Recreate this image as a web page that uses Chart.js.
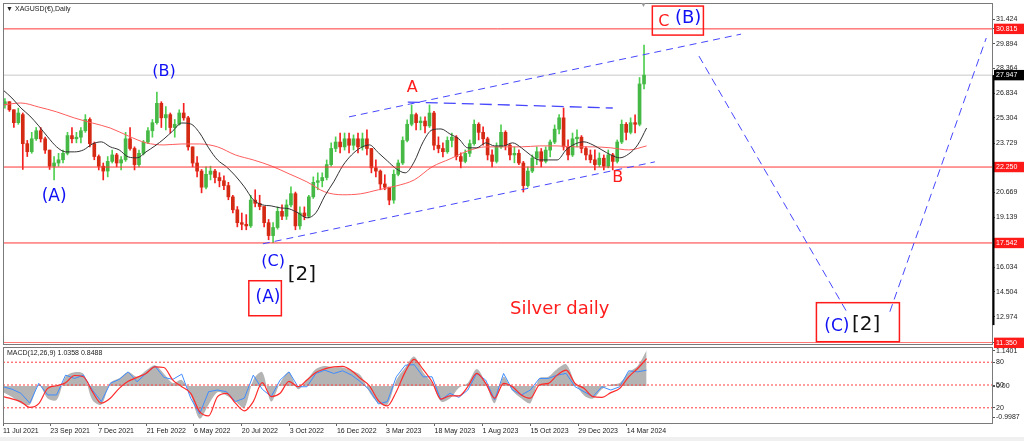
<!DOCTYPE html>
<html><head><meta charset="utf-8">
<script src="https://cdn.jsdelivr.net/npm/chart.js@4.4.1/dist/chart.umd.min.js"></script>
<style>
html,body{margin:0;padding:0;background:#fff;}
#wrap{position:relative;width:1024px;height:441px;overflow:hidden;background:#fff;}
#c1{position:absolute;left:0;top:0;}
#c2{position:absolute;left:0;top:345px;}
#strip{position:absolute;left:0;top:437px;width:1024px;height:4px;background:#f0f0f0;}
</style></head><body>
<div id="wrap"><div id="strip"></div><canvas id="c1" width="1024" height="352"></canvas><canvas id="c2" width="1024" height="96"></canvas></div>
<script>
// ---------- DATA (x = days since 11 Jul 2021) ----------
const barFirstDay = 3, barStepDays = 7;   // weekly candles
const opens = [26.1,26.3,25.8,25.0,25.5,23.7,23.2,24.0,24.5,24.0, 23.3,22.3,22.5,22.7,23.1,24.2,24.0,24.1,24.5,25.2, 23.7,22.9,22.3,22.0,22.6,23.0,22.5,22.7,24.0,23.4, 22.4,23.1,23.8,24.5,25.0,26.2,25.3,25.5,24.7,24.9, 25.6,25.3,23.5,22.5,22.0,21.0,21.8,22.0,21.6,21.4, 21.1,20.4,19.6,18.8,18.7,18.6,20.2,20.0,19.8,18.8, 18.0,18.5,19.5,19.2,19.9,20.6,18.6,19.4,19.2,20.4, 21.3,21.4,21.6,22.4,23.4,23.8,23.5,24.0,23.6,24.0, 23.5,24.0,23.4,22.2,22.0,21.2,21.0,20.2,21.8,22.5, 23.9,24.9,25.5,25.0,25.1,24.8,25.6,23.6,23.4,23.2, 23.9,24.1,22.9,22.6,23.1,23.7,24.9,24.4,24.0,23.0, 22.6,23.5,24.4,23.6,23.0,23.1,22.5,21.1,22.0,22.8, 23.2,22.6,23.3,23.8,24.6,25.3,23.5,23.0,24.0,24.1, 23.4,23.0,22.7,22.4,22.8,22.3,23.0,22.6,23.8,24.9, 24.4,25.0,24.9,27.4];
const highs = [26.5,26.3,25.8,25.9,25.6,23.9,24.4,24.7,24.7,24.1, 23.3,22.9,23.1,23.3,24.4,24.7,24.4,24.7,25.5,25.3, 23.8,23.0,22.5,22.9,23.3,23.1,22.9,24.4,24.7,23.5, 23.3,23.9,24.7,25.2,26.9,26.3,26.0,25.6,25.2,25.8, 26.2,25.4,23.5,22.9,22.1,22.26,22.3,22.1,21.9,21.7, 21.3,20.5,19.8,19.4,19.3,20.5,20.84,20.5,19.8,19.0, 18.8,19.78,19.9,20.22,21.02,20.7,19.78,19.78,20.5,21.64, 21.89,21.89,22.69,23.75,24.12,24.36,24.36,24.36,24.24,24.36, 24.36,24.55,23.4,22.69,22.07,21.77,21.0,22.07,22.69,24.12, 25.17,26.1,25.6,25.36,25.36,26.1,25.7,24.12,23.75,24.12, 24.36,24.2,23.13,23.31,23.93,25.17,25.0,24.74,24.1,23.31, 23.75,24.86,24.5,23.7,23.5,23.31,22.6,22.26,23.0,23.5, 23.4,23.5,23.93,24.86,25.5,25.91,23.93,24.36,24.55,24.2, 23.5,23.31,23.31,23.13,23.0,23.31,23.1,23.93,25.17,25.0, 25.3,25.48,27.8,29.81];
const lows = [25.9,25.7,24.7,24.9,22.1,22.9,23.1,23.9,23.8,23.1, 22.1,21.45,22.3,22.5,23.0,23.75,23.75,23.75,24.4,23.5, 22.7,22.07,21.45,21.64,22.5,22.26,22.07,22.6,23.3,22.07, 22.26,23.0,23.7,24.1,24.9,24.7,24.55,24.36,24.1,24.85, 25.15,23.3,22.26,21.64,20.65,20.9,21.45,21.27,21.02,20.84, 20.22,19.41,18.54,18.36,18.36,18.5,19.78,19.6,18.54,17.74, 17.56,18.4,18.98,19.0,19.78,18.36,18.4,18.98,19.1,20.3, 20.84,21.02,21.45,22.3,23.2,23.13,23.3,23.13,23.31,23.13, 23.3,23.0,21.89,21.64,20.84,20.84,19.91,20.0,21.7,22.4, 23.8,24.8,24.55,24.55,24.36,24.7,23.31,23.13,22.88,23.1, 23.5,22.69,22.2,22.51,22.9,23.6,23.93,23.6,22.69,22.26, 22.5,23.4,23.31,22.69,22.51,22.4,20.7,21.0,21.9,22.4, 22.26,22.5,22.88,23.7,24.3,23.3,22.69,22.9,23.5,23.13, 22.69,22.51,22.07,22.26,22.07,22.2,22.07,22.5,23.7,23.93, 24.3,24.36,24.8,27.1];
const closes = [26.3,25.8,25.0,25.6,23.7,23.2,24.0,24.5,24.0,23.3, 22.3,22.5,22.7,23.1,24.2,24.0,24.1,24.5,25.2,23.7, 22.9,22.3,22.0,22.6,23.0,22.5,22.7,24.0,23.4,22.4, 23.1,23.8,24.5,25.0,26.2,25.3,25.5,24.7,24.9,25.6, 25.3,23.5,22.5,22.0,21.0,21.8,22.0,21.6,21.4,21.1, 20.4,19.6,18.8,18.7,18.6,20.2,20.0,19.8,18.8,18.0, 18.5,19.5,19.2,19.9,20.6,18.6,19.4,19.2,20.4,21.3, 21.4,21.6,22.4,23.4,23.8,23.5,24.0,23.6,24.0,23.5, 24.0,23.4,22.2,22.0,21.2,21.0,20.2,21.8,22.5,23.9, 24.9,25.5,25.0,25.1,24.8,25.6,23.6,23.4,23.2,23.9, 24.1,22.9,22.6,23.1,23.7,24.9,24.4,24.0,23.0,22.6, 23.5,24.4,23.6,23.0,23.1,22.5,21.1,22.0,22.8,23.2, 22.6,23.3,23.8,24.6,25.3,23.5,23.0,24.0,24.1,23.4, 23.0,22.7,22.4,22.8,22.3,23.0,22.6,23.8,24.9,24.4, 25.0,24.9,27.4,27.95];

const maStepDays = 14;
const blackMA = [27.03,26.53,25.91,25.42,24.80,24.12,23.50,23.19,23.19,23.31, 23.68,23.81,23.50,23.31,22.88,22.82,23.19,23.56,23.99,24.49, 24.98,24.92,24.36,23.44,22.69,22.26,21.70,21.02,20.22,19.91, 19.84,19.72,19.66,19.41,19.10,19.41,20.46,21.33,22.32,23.00, 23.44,23.62,23.13,22.63,22.14,21.89,22.57,23.81,24.55,24.61, 24.30,23.99,23.44,23.44,23.75,23.56,23.56,23.75,23.44,23.00, 22.69,22.69,22.69,23.31,23.68,23.81,23.62,23.31,23.00,22.82, 23.06,23.62,24.67];
const redMAStepDays = 28;
const redMA = [26.10,26.22,25.97,25.67,25.29,24.98,24.67,24.18,23.75,23.62, 23.68,23.68,23.50,23.00,22.69,22.32,21.83,21.33,20.71,20.53, 20.59,20.84,21.08,21.45,22.26,22.75,23.25,23.50,23.50,23.50, 23.56,23.56,23.50,23.50,23.44,23.31,23.56];

const priceTicks = [31.424, 30.815, 29.894, 28.364, 27.947, 26.834, 25.304, 23.729, 22.250, 20.669, 19.139, 17.542, 16.034, 14.504, 12.974, 11.350];
const redLevels = [30.815, 22.250, 17.542, 11.350];
const lastPrice = 27.947;

const trendDays   = [[542,1156],[634,955],[407,1021],[1090,1324],[1389,1540]];
const trendPrices = [[25.36,30.49],[26.28,25.91],[17.49,22.57],[29.13,13.10],[13.28,30.25]];

const waveTexts  = ['(B)','(A)','A','B','(C)','[2]','(A)','C','(B)','Silver daily','(C)','[2]'];
const waveDays   = [252, 80, 641, 963, 423, 468, 415, 1035, 1073, 872, 1306, 1352];
const wavePrices = [28.14, 20.40, 27.15, 21.58, 16.38, 15.57, 14.15, 31.24, 31.45, 13.40, 12.35, 12.45];
const boxDays    = [[385,436],[1017,1097],[1274,1404]];
const boxPrices  = [[15.20,13.03],[32.23,30.43],[13.84,11.42]];

const dateDays   = [0,74,149,225,299,374,449,523,600,676,751,826,901,977];
const dateLabels = ['11 Jul 2021','23 Sep 2021','7 Dec 2021','21 Feb 2022','6 May 2022','20 Jul 2022','3 Oct 2022','16 Dec 2022','3 Mar 2023','18 May 2023','1 Aug 2023','15 Oct 2023','29 Dec 2023','14 Mar 2024'];

const oscStepDays = 14;
const macdHist = [-0.2,-0.35,-0.55,-0.6,0.05,-0.4,-0.45,0.3,0.45,0.4, -0.45,-0.6,0.1,0.25,0.45,0.3,0.5,0.67,0.4,0.1, 0.2,-0.3,-1.05,-0.6,-0.2,-0.3,-0.5,-0.7,0.2,0.45, -0.5,0.1,0.45,-0.1,0.2,0.55,0.65,0.6,0.6,0.5, 0.35,-0.2,-0.55,-0.6,0.2,0.6,0.95,0.45,0.1,-0.5, -0.4,-0.05,0.1,0.55,0.1,-0.55,0.3,-0.15,-0.4,-0.55, 0.25,0.3,0.55,0.7,0.1,-0.3,-0.4,-0.1,0.05,0.1, 0.45,0.65,1.15];
const oscBlue = [47.7,44.5,39.1,26.1,52.2,36.9,36.9,63,58.6,63, 43.4,28.2,52.2,57.4,67.3,54.2,65.2,74.9,60,57.4, 64.3,32.6,12,41.2,43.4,41.2,28.2,32.6,63,44.5, 34.7,56.5,67.3,47.7,47.7,65.2,69.5,65.2,68.7,63, 54.2,43.4,25,28.2,60.8,76,76.8,60.8,60.8,30.4, 39.1,33.7,43.4,65.2,56.5,30.4,65.2,43.4,36.9,43.4, 58.6,58.6,63,65.2,47.7,41.2,34.7,47.7,43.4,47.7, 68.7,67.3,69.5];
const oscRed = [34.7,31.8,28,20.6,25.5,45.6,49,53,62.5,60.8, 41.2,26.1,32.6,45.6,54.8,60,65.2,73.8,73,56.5, 47.7,39.1,15.1,9.5,34.7,39.1,26.1,16,28.2,53, 34.7,39.1,54.8,47.7,56.5,66.5,71.2,73.8,74.6,68.7, 58.6,48.9,29.5,22.5,41.2,67.3,83.8,70.4,54.2,31.5, 35.6,35.6,47.7,65.2,52.2,32.6,52.2,47.7,36.9,32.6, 49.9,52.2,63,69.5,52.2,45.6,34.7,33.7,40,45.6, 60.8,71.7,84.7];
const oscLevels = [80, 50, 20];
const macdAxisLabels = [1.1401, 0, -0.9987];

// ---------- STYLE ----------
const X_MIN = 0, X_MAX = 1549;
const P_MIN = 11.34, P_MAX = 32.42;
const M_MIN = -1.19, M_MAX = 1.26;
const GREEN = '#4fcf4f', RED = '#f42020';
const BLUE_T = '#1010f5', RED_T = '#ff1c1c';
const waveColors = [BLUE_T,BLUE_T,RED_T,RED_T,BLUE_T,'#111',BLUE_T,RED_T,BLUE_T,RED_T,BLUE_T,'#111'];
const waveSizes  = [16,17,16,16,16,20,17,16,18,18,17,20];
const trendDash  = [[7,5],[12,6],[7,5],[8,5],[8,5]];
const AXFONT = {family:'Liberation Sans', size:7};

const idx = opens.map((_, i) => i);
const barDay = i => barFirstDay + barStepDays * i;
const isUp = i => closes[i] >= opens[i];

const datasets = [];
datasets.push({ type:'bar', data: idx.map(i => ({x: barDay(i), y:[lows[i], highs[i]]})),
  backgroundColor: idx.map(i => isUp(i) ? GREEN : RED), barThickness:1, grouped:false, borderWidth:0, order:5 });
datasets.push({ type:'bar', data: idx.map(i => ({x: barDay(i), y:[opens[i], closes[i]]})),
  backgroundColor: idx.map(i => isUp(i) ? '#45b845' : '#d42a14'), barThickness:3, minBarLength:1, grouped:false, borderWidth:0, order:4 });
datasets.push({ type:'line', data: blackMA.map((v,k) => ({x:k*maStepDays, y:v})), borderColor:'#333', borderWidth:1, pointRadius:0, cubicInterpolationMode:'monotone', order:3 });
datasets.push({ type:'line', data: redMA.map((v,k) => ({x:k*redMAStepDays, y:v})), borderColor:'#ff5c5c', borderWidth:1, pointRadius:0, cubicInterpolationMode:'monotone', order:3 });
datasets.push({ type:'line', data: [{x:X_MIN,y:lastPrice},{x:X_MAX,y:lastPrice}], borderColor:'#c8c8c8', borderWidth:1, pointRadius:0, order:6 });
redLevels.forEach(v => datasets.push({ type:'line', data:[{x:X_MIN,y:v},{x:X_MAX,y:v}], borderColor:'#ff3434', borderWidth:1, pointRadius:0, order:2 }));
trendDays.forEach((d, i) => datasets.push({ type:'line', data:[{x:d[0],y:trendPrices[i][0]},{x:d[1],y:trendPrices[i][1]}], borderColor:'#4646ff', borderWidth: i===1?1.3:1, borderDash: trendDash[i], pointRadius:0, order:1 }));

const special = v => redLevels.includes(v) || v === lastPrice;

const mainDeco = {
  id: 'mainDeco',
  afterDatasetsDraw(chart) {
    const {ctx, scales:{x, y}} = chart;
    ctx.save();
    ctx.strokeStyle = '#ff1a1a'; ctx.lineWidth = 1.5;
    boxDays.forEach((d, i) => {
      const x1 = x.getPixelForValue(d[0]), x2 = x.getPixelForValue(d[1]);
      const y1 = y.getPixelForValue(boxPrices[i][0]), y2 = y.getPixelForValue(boxPrices[i][1]);
      ctx.strokeRect(x1, y1, x2 - x1, y2 - y1);
    });
    ctx.textAlign = 'center'; ctx.textBaseline = 'middle';
    waveTexts.forEach((t, i) => {
      ctx.font = waveSizes[i] + 'px "DejaVu Sans"';
      ctx.fillStyle = waveColors[i];
      ctx.fillText(t, x.getPixelForValue(waveDays[i]), y.getPixelForValue(wavePrices[i]));
    });
    ctx.restore();
  },
  afterDraw(chart) {
    const {ctx, chartArea:a, scales:{y}} = chart;
    ctx.save();
    ctx.strokeStyle = '#7a7a7a'; ctx.lineWidth = 1;
    ctx.strokeRect(a.left + 0.5, a.top + 0.5, a.right - a.left, a.bottom - a.top + 1);
    ctx.strokeStyle = '#000'; ctx.lineWidth = 2;
    ctx.beginPath(); ctx.moveTo(a.right + 1.5, y.getPixelForValue(lastPrice)); ctx.lineTo(a.right + 1.5, y.getPixelForValue(12.45)); ctx.stroke();
    ctx.fillStyle = '#222'; ctx.font = '7px "Liberation Sans"'; ctx.textBaseline = 'middle'; ctx.textAlign = 'left';
    ctx.fillText('▼', a.left + 3, a.top + 6);
    ctx.fillText('XAGUSD(€),Daily', a.left + 12, a.top + 6);
    ctx.fillStyle = '#999'; ctx.fillText('▼', 640, a.top + 2);
    ctx.restore();
  }
};

new Chart(document.getElementById('c1'), {
  type: 'bar',
  data: { datasets },
  options: {
    responsive:false, animation:false, devicePixelRatio:1,
    layout: { padding: { left:3, top:3, right:0, bottom:9 } },
    plugins: { legend:{display:false}, tooltip:{enabled:false} },
    scales: {
      x: { type:'linear', min:X_MIN, max:X_MAX, display:false, offset:false },
      y: { type:'linear', position:'right', min:P_MIN, max:P_MAX,
        afterBuildTicks: ax => { ax.ticks = priceTicks.slice().sort((a,b)=>a-b).map(v => ({value:v})); },
        afterFit: s => { s.width = 32; s.paddingTop = 0; s.paddingBottom = 0; },
        ticks: { autoSkip:false, padding:1, font:AXFONT,
          color: c => special(c.tick.value) ? '#fff' : '#222',
          showLabelBackdrop: c => special(c.tick.value),
          backdropColor: c => c.tick.value === lastPrice ? '#000' : '#ff1a1a',
          backdropPadding: {top:1, bottom:1, left:2, right:8},
          callback: v => v.toFixed(3) },
        grid: { drawOnChartArea:false, tickLength:3, color:'#555' },
        border: { display:true, color:'#7a7a7a' } }
    }
  },
  plugins: [mainDeco]
});

// ---------- MACD panel ----------
const toOsc = v => (v - M_MIN) / (M_MAX - M_MIN) * 100;
const oscTickItems = oscLevels.map(v => ({value:v, label:String(v)}))
  .concat(macdAxisLabels.map(v => ({value:toOsc(v), label: v === 0 ? '0.00' : String(v)})))
  .sort((a,b) => a.value - b.value);

const macdDeco = {
  id:'macdDeco',
  afterDraw(chart) {
    const {ctx, chartArea:a} = chart;
    ctx.save();
    ctx.strokeStyle = '#7a7a7a'; ctx.lineWidth = 1;
    ctx.strokeRect(a.left + 0.5, a.top + 0.5, a.right - a.left, a.bottom - a.top);
    ctx.fillStyle = '#222'; ctx.font = '7px "Liberation Sans"'; ctx.textBaseline = 'middle'; ctx.textAlign = 'left';
    ctx.fillText('MACD(12,26,9) 1.0358 0.8488', a.left + 4, a.top + 6);
    ctx.restore();
  }
};

const oscDatasets = [
  { data: macdHist.map((v,k) => ({x:k*oscStepDays, y:v})), yAxisID:'ym', borderWidth:0, borderColor:'rgba(0,0,0,0)', backgroundColor:'#b4b4b4', fill:'origin', pointRadius:0, tension:0.3, order:5 },
  { data: oscBlue.map((v,k) => ({x:k*oscStepDays, y:v})), yAxisID:'ys', borderColor:'#3f8cff', borderWidth:1, pointRadius:0, tension:0, order:3 },
  { data: oscRed.map((v,k) => ({x:k*oscStepDays, y:v})), yAxisID:'ys', borderColor:'#ff2a2a', borderWidth:1.2, pointRadius:0, cubicInterpolationMode:'monotone', order:2 }
];
oscLevels.forEach(v => oscDatasets.push({ data:[{x:X_MIN,y:v},{x:X_MAX,y:v}], yAxisID:'ys', borderColor:'#ff3a3a', borderWidth:1, borderDash:[2,2], pointRadius:0, order:1 }));

new Chart(document.getElementById('c2'), {
  type:'line',
  data:{ datasets: oscDatasets },
  options:{
    responsive:false, animation:false, devicePixelRatio:1,
    layout:{ padding:{ left:3, top:2, right:0, bottom:0 } },
    plugins:{ legend:{display:false}, tooltip:{enabled:false} },
    scales:{
      x:{ type:'linear', min:X_MIN, max:X_MAX, position:'bottom',
        afterBuildTicks: ax => { ax.ticks = dateDays.map(v => ({value:v})); },
        afterFit: s => { s.height = 18; s.paddingLeft = 0; s.paddingRight = 0; },
        ticks:{ autoSkip:false, maxRotation:0, align:'start', padding:1, font:AXFONT, color:'#222', callback:(v,i) => dateLabels[i] },
        grid:{ drawOnChartArea:false, tickLength:3, color:'#666' },
        border:{ display:true, color:'#7a7a7a' } },
      ys:{ type:'linear', position:'right', min:0, max:100,
        afterBuildTicks: ax => { ax.ticks = oscTickItems.map(t => ({value:t.value})); },
        afterFit: s => { s.width = 32; s.paddingTop = 0; s.paddingBottom = 0; },
        ticks:{ autoSkip:false, padding:1, font:AXFONT, color:'#222', callback:(v,i) => oscTickItems[i].label },
        grid:{ drawOnChartArea:false, tickLength:3, color:'#555' },
        border:{ display:true, color:'#7a7a7a' } },
      ym:{ type:'linear', display:false, min:M_MIN, max:M_MAX }
    }
  },
  plugins:[macdDeco]
});
</script>
</body></html>
